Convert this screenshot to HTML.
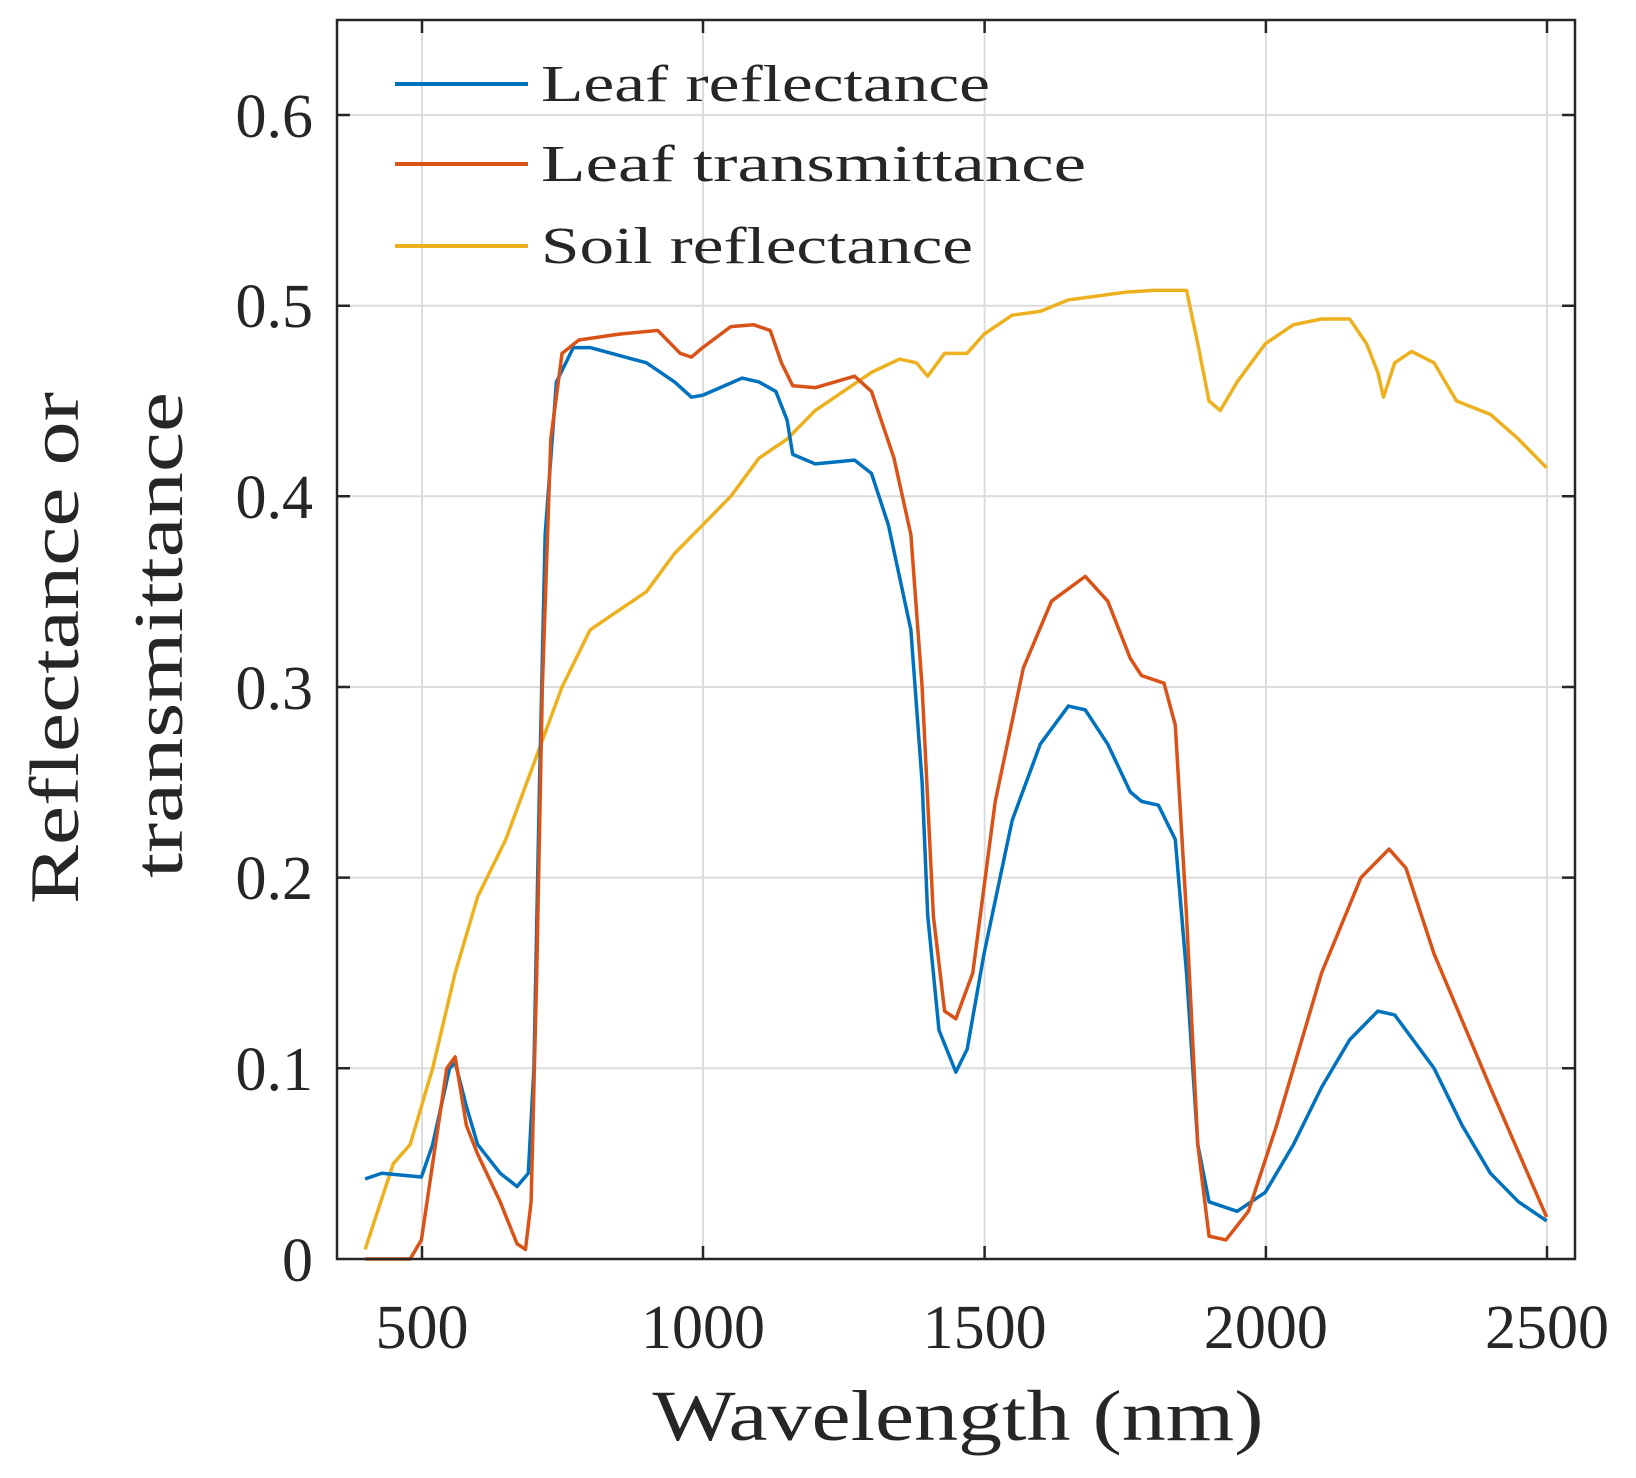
<!DOCTYPE html>
<html><head><meta charset="utf-8"><style>body{margin:0;background:#fff}svg{display:block}text{font-family:"Liberation Serif",serif;fill:#262626}</style></head>
<body>
<svg width="1636" height="1478" viewBox="0 0 1636 1478" xmlns="http://www.w3.org/2000/svg">
<g stroke="#dcdcdc" stroke-width="2">
<line x1="422" y1="20" x2="422" y2="1259"/><line x1="703" y1="20" x2="703" y2="1259"/><line x1="984.6" y1="20" x2="984.6" y2="1259"/><line x1="1265.9" y1="20" x2="1265.9" y2="1259"/><line x1="1547" y1="20" x2="1547" y2="1259"/>
<line x1="337" y1="1068.3" x2="1575" y2="1068.3"/><line x1="337" y1="877.6" x2="1575" y2="877.6"/><line x1="337" y1="687" x2="1575" y2="687"/><line x1="337" y1="496.3" x2="1575" y2="496.3"/><line x1="337" y1="305.7" x2="1575" y2="305.7"/><line x1="337" y1="115" x2="1575" y2="115"/>
</g>
<g stroke="#262626" stroke-width="2.5">
<path d="M422 1259v-13M703 1259v-13M984.6 1259v-13M1265.9 1259v-13M1547 1259v-13M422 20v13M703 20v13M984.6 20v13M1265.9 20v13M1547 20v13"/>
<path d="M337 1068.3h13M337 877.6h13M337 687h13M337 496.3h13M337 305.7h13M337 115h13M1575 1068.3h-13M1575 877.6h-13M1575 687h-13M1575 496.3h-13M1575 305.7h-13M1575 115h-13"/>
</g>
<g transform="translate(140.1,1259) scale(0.5626,-1906.7)" fill="none" stroke-width="3.5" stroke-linejoin="round">
<polyline vector-effect="non-scaling-stroke" stroke="#EDB120" points="400,0.005 450,0.05 480,0.06 520,0.1 560,0.15 600,0.19 650,0.22 700,0.26 750,0.3 800,0.33 850,0.34 900,0.35 950,0.37 1000,0.385 1050,0.4 1100,0.42 1150,0.43 1200,0.445 1250,0.455 1300,0.465 1350,0.472 1380,0.47 1400,0.463 1430,0.475 1470,0.475 1500,0.485 1550,0.495 1600,0.497 1650,0.503 1700,0.505 1750,0.507 1800,0.508 1860,0.508 1880,0.48 1900,0.45 1920,0.445 1950,0.46 2000,0.48 2050,0.49 2100,0.493 2150,0.493 2180,0.48 2200,0.465 2210,0.452 2230,0.47 2260,0.476 2300,0.47 2340,0.45 2400,0.443 2450,0.43 2500,0.415"/>
<polyline vector-effect="non-scaling-stroke" stroke="#0072BD" points="400,0.042 430,0.045 500,0.043 520,0.06 550,0.1 560,0.103 580,0.08 600,0.06 640,0.045 670,0.038 690,0.045 700,0.1 710,0.25 720,0.38 740,0.46 770,0.478 800,0.478 900,0.47 950,0.46 980,0.452 1000,0.453 1070,0.462 1100,0.46 1130,0.455 1150,0.44 1160,0.422 1200,0.417 1270,0.419 1300,0.412 1330,0.385 1370,0.33 1390,0.25 1400,0.18 1420,0.12 1450,0.098 1470,0.11 1500,0.16 1550,0.23 1600,0.27 1650,0.29 1680,0.288 1720,0.27 1760,0.245 1780,0.24 1810,0.238 1840,0.22 1860,0.15 1880,0.06 1900,0.03 1950,0.025 2000,0.035 2050,0.06 2100,0.09 2150,0.115 2200,0.13 2230,0.128 2300,0.1 2350,0.07 2400,0.045 2450,0.03 2500,0.02"/>
<polyline vector-effect="non-scaling-stroke" stroke="#D95319" points="400,0 480,0 500,0.01 520,0.05 545,0.1 560,0.106 580,0.07 600,0.055 640,0.03 670,0.008 685,0.005 695,0.03 705,0.15 715,0.3 730,0.43 750,0.475 780,0.482 850,0.485 920,0.487 960,0.475 980,0.473 1000,0.478 1050,0.489 1090,0.49 1120,0.487 1140,0.47 1160,0.458 1200,0.457 1270,0.463 1300,0.455 1340,0.42 1370,0.38 1390,0.3 1410,0.18 1430,0.13 1450,0.126 1480,0.15 1520,0.24 1570,0.31 1620,0.345 1680,0.358 1720,0.345 1760,0.315 1780,0.306 1820,0.302 1840,0.28 1860,0.18 1880,0.06 1900,0.012 1930,0.01 1970,0.025 2020,0.07 2100,0.15 2170,0.2 2220,0.215 2250,0.205 2300,0.16 2400,0.09 2500,0.022"/>
</g>
<rect x="337" y="20" width="1238" height="1239" fill="none" stroke="#262626" stroke-width="2.5"/>
<g stroke-width="4">
<line x1="395" y1="84" x2="528" y2="84" stroke="#0072BD"/>
<line x1="395" y1="164" x2="528" y2="164" stroke="#D95319"/>
<line x1="395" y1="246" x2="528" y2="246" stroke="#EDB120"/>
</g>
<g font-size="52">
<text x="541" y="101" textLength="449" lengthAdjust="spacingAndGlyphs">Leaf reflectance</text>
<text x="541" y="181" textLength="545" lengthAdjust="spacingAndGlyphs">Leaf transmittance</text>
<text x="541" y="263" textLength="432" lengthAdjust="spacingAndGlyphs">Soil reflectance</text>
</g>
<g font-size="62" text-anchor="end">
<text x="313" y="1281">0</text><text x="313" y="1090">0.1</text><text x="313" y="899">0.2</text><text x="313" y="709">0.3</text><text x="313" y="518">0.4</text><text x="313" y="327">0.5</text><text x="313" y="137">0.6</text>
</g>
<g font-size="62" text-anchor="middle">
<text x="422" y="1348">500</text><text x="703" y="1348">1000</text><text x="984.6" y="1348">1500</text><text x="1265.9" y="1348">2000</text><text x="1547" y="1348">2500</text>
</g>
<text x="958" y="1440" font-size="72" text-anchor="middle" textLength="611" lengthAdjust="spacingAndGlyphs">Wavelength (nm)</text>
<text transform="translate(78,648) rotate(-90)" font-size="70" text-anchor="middle" textLength="512" lengthAdjust="spacingAndGlyphs">Reflectance or</text>
<text transform="translate(182,635) rotate(-90)" font-size="70" text-anchor="middle" textLength="486" lengthAdjust="spacingAndGlyphs">transmittance</text>
</svg>
</body></html>
